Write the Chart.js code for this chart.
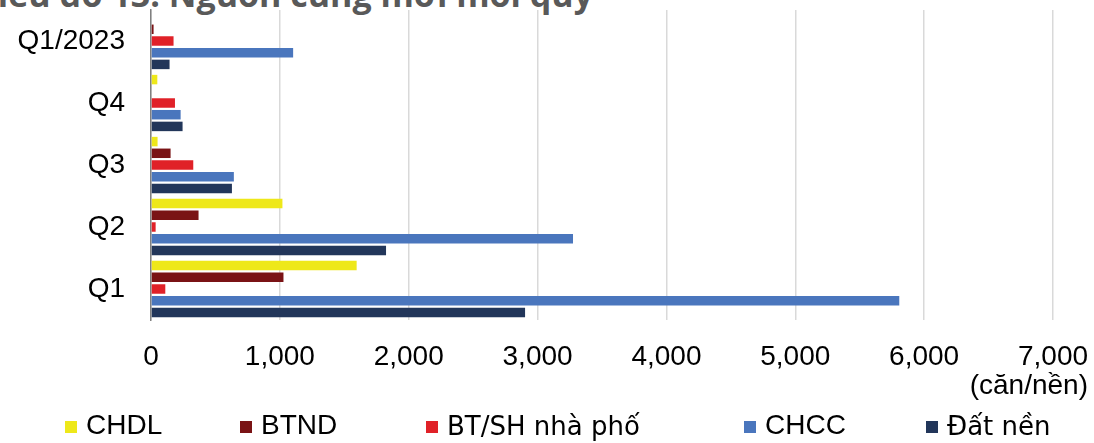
<!DOCTYPE html>
<html>
<head>
<meta charset="utf-8">
<script src="https://cdn.jsdelivr.net/npm/chart.js@4.4.0/dist/chart.umd.min.js"></script>
<style>
  body { margin: 0; background: #fff; }
  #wrap { position: relative; width: 1094px; height: 443px; overflow: hidden; }
  #chartBox { position: absolute; left: 0; top: 0; width: 1094px; height: 443px; }
  #title { position: absolute; left: -25px; top: -23px; font: bold 34px/34px "Open Sans"; color: #595959; white-space: nowrap; }
  #unit { position: absolute; right: 6px; top: 371px; font: 28px/28px "Liberation Sans"; color: #000; white-space: nowrap; }
  .item { position: absolute; top: 411px; font: 28px/28px "Liberation Sans"; color: #000; white-space: nowrap; }
  .item.dv { top: 413px; font: 26px/26px "DejaVu Sans"; }
  .box { position: absolute; width: 12px; height: 12px; }
</style>
</head>
<body>
<div id="wrap">
  <div id="title">Biểu đồ 13: Nguồn cung mới mỗi quý</div>
  <div id="chartBox"><canvas id="myChart"></canvas></div>
  <div id="unit">(căn/nền)</div>
  <div id="legend"></div>
</div>
<script>
// quarters, top to bottom as in the picture
let quarters = ['Q1/2023', 'Q4', 'Q3', 'Q2', 'Q1'];

// new supply per segment (units), same order as quarters
let chdl = [0, 49, 51, 1020, 1596];
let btnd = [20, 0, 152, 369, 1028];
let btsh = [175, 186, 328, 36, 111];
let chcc = [1103, 230, 643, 3275, 5807];
let datNen = [144, 245, 628, 1824, 2903];

let seriesNames = ['CHDL', 'BTND', 'BT/SH nhà phố', 'CHCC', 'Đất nền'];
let seriesColours = ['#eee81a', '#7a1315', '#e02128', '#4a76bd', '#22365a'];

let xMax = 7000;
let xStep = 1000;

// legend layout (left edge of each swatch)
let legendLeft = [65, 240, 426, 744, 926];
let dejavuItems = ['BT/SH nhà phố', 'Đất nền'];

let tickFont = { family: 'Liberation Sans', size: 28 };

let allValues = [chdl, btnd, btsh, chcc, datNen];
let datasets = seriesNames.map(function (name, i) {
  return {
    label: name,
    data: allValues[i],
    backgroundColor: seriesColours[i],
    categoryPercentage: 0.944,
    barPercentage: 0.81
  };
});

let ctx = document.getElementById('myChart').getContext('2d');
let mychart = new Chart(ctx, {
  type: 'bar',
  data: { labels: quarters, datasets: datasets },
  options: {
    indexAxis: 'y',
    responsive: true,
    maintainAspectRatio: false,
    animation: false,
    layout: { padding: { top: 10, right: 41, left: 0, bottom: 0 } },
    plugins: {
      legend: { display: false },
      tooltip: { enabled: false }
    },
    scales: {
      x: {
        min: 0,
        max: xMax,
        ticks: {
          stepSize: xStep,
          font: tickFont,
          color: '#000',
          padding: 20,
          maxRotation: 0,
          callback: function (v) { return v.toLocaleString('en-US'); }
        },
        grid: { color: '#d9d9d9', lineWidth: 1.5, drawTicks: false },
        border: { display: false },
        afterFit: function (s) {
          s.height = 123;
          s.paddingLeft = 0;
          s.paddingRight = 0;
        }
      },
      y: {
        ticks: { font: tickFont, color: '#000', padding: 26 },
        grid: { display: false, drawTicks: false },
        border: { color: '#808080', width: 1.5 },
        afterFit: function (s) {
          s.width = 151;
          s.paddingTop = 0;
          s.paddingBottom = 0;
        }
      }
    }
  }
});

// legend drawn from the chart's datasets
let legendDiv = document.getElementById('legend');
mychart.data.datasets.forEach(function (ds, i) {
  let box = document.createElement('div');
  box.className = 'box';
  box.style.left = legendLeft[i] + 'px';
  box.style.top = '421px';
  box.style.background = ds.backgroundColor;
  legendDiv.appendChild(box);

  let txt = document.createElement('div');
  txt.className = dejavuItems.indexOf(ds.label) >= 0 ? 'item dv' : 'item';
  txt.style.left = (legendLeft[i] + 21) + 'px';
  txt.textContent = ds.label;
  legendDiv.appendChild(txt);
});
</script>
</body>
</html>
